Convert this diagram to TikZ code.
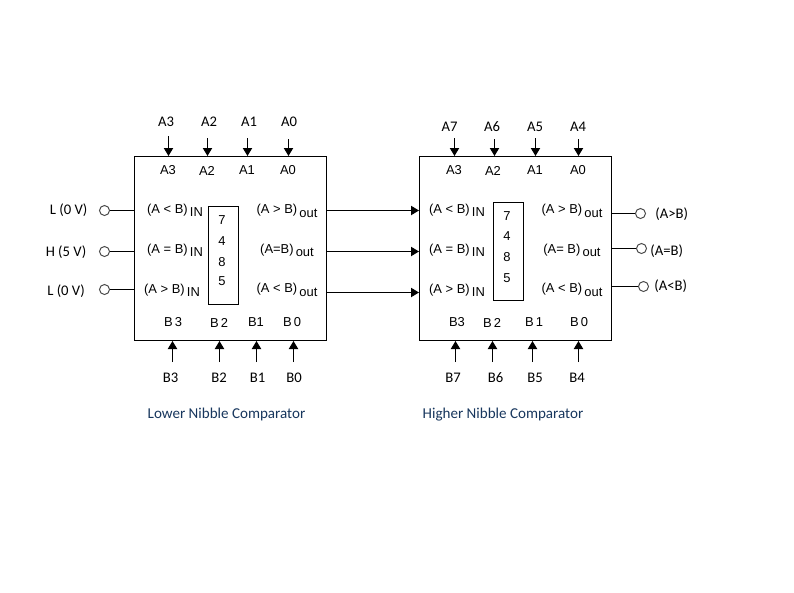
\documentclass[tikz,border=0pt]{standalone}
\usepackage{fontspec}
\setmainfont{Carlito}
\newfontfamily\innerfont{Liberation Sans}
\usetikzlibrary{arrows.meta}
\tikzset{
  x=0.75pt,y=-0.75pt,
  blockbox/.style={draw=black,line width=0.75pt,minimum width=192*0.75pt,minimum height=184*0.75pt,inner sep=0pt},
  chipbox/.style={draw=black,line width=0.75pt,minimum width=30*0.75pt,minimum height=98*0.75pt,inner sep=0pt},
  pinring/.style={circle,draw=black!70,line width=0.75pt,minimum size=10*0.75pt,inner sep=0pt},
  wire/.style={line width=0.75pt,draw=black},
  arrowwire/.style={wire,-{Triangle[length=6pt,width=7pt]}},
  outer/.style={font=\fontsize{11}{13}\selectfont,inner sep=0pt,text=black,yshift=-0.8pt},
  inner/.style={font=\innerfont\fontsize{9.7}{11}\selectfont,inner sep=0pt,text=black},
  caption/.style={font=\fontsize{11.3}{13}\selectfont,inner sep=0pt,text={rgb,255:red,23;green,54;blue,93},yshift=-1pt},
}
\newcommand{\insub}[2]{#1\raisebox{-2.5pt}{\,#2}}
\begin{document}
\begin{tikzpicture}
\useasboundingbox (0,0) rectangle (794,593);
% blocks
\node[blockbox] (lo) at (230.5,248.5) {};
\node[blockbox] (hi) at (515.5,248.5) {};
\node[chipbox] (chipa) at (223.5,255.5) {};
\node[chipbox] (chipb) at (508.5,251.5) {};
% chip digits
\foreach \d/\yy/\n in {7/220/a,4/241/b,8/262/c,5/281/d} \node[inner] (cha\n) at (222,\yy) {\d};
\foreach \d/\yy/\n in {7/216/a,4/236/b,8/257/c,5/278/d} \node[inner] (chb\n) at (507,\yy) {\d};
% top inner labels
\foreach \t/\xx/\n in {A3/168/a,A2/207/b,A1/247/c,A0/288/d} \node[inner] (tia\n) at (\xx,170.5) {\t};
\foreach \t/\xx/\n in {A3/454/a,A2/493/b,A1/535/c,A0/578/d} \node[inner] (tib\n) at (\xx,170.5) {\t};
% bottom inner labels
\foreach \t/\xx/\n in {B\,3/173/a,B\,2/219/b,B1/256/c,B\,0/292/d} \node[inner] (bia\n) at (\xx,322.5) {\t};
\foreach \t/\xx/\n in {B3/457/a,B\,2/492/b,B\,1/534/c,B\,0/579/d} \node[inner] (bib\n) at (\xx,322.5) {\t};
% top outer labels
\foreach \t/\xx/\n in {A3/166/a,A2/209/b,A1/249/c,A0/289/d} \node[outer] (toa\n) at (\xx,121) {\t};
\foreach \t/\xx/\n in {A7/449.5/a,A6/492/b,A5/535/c,A4/578/d} \node[outer] (tob\n) at (\xx,126) {\t};
% bottom outer labels
\foreach \t/\xx/\n in {B3/170.5/a,B2/219/b,B1/257.5/c,B0/294/d} \node[outer] (boa\n) at (\xx,377) {\t};
\foreach \t/\xx/\n in {B7/453/a,B6/495.7/b,B5/535/c,B4/577/d} \node[outer] (bob\n) at (\xx,377) {\t};
% top arrows
\foreach \n/\xx/\yy in {a/168.5/136,b/207.5/138,c/247.5/138,d/288.5/139} {
  \coordinate (sa\n) at (\xx,\yy);
  \draw[arrowwire] (sa\n) -- (sa\n |- lo.north);
}
\foreach \n/\xx/\yy in {a/454.5/138,b/494.5/139,c/535.5/138,d/578.5/139} {
  \coordinate (sb\n) at (\xx,\yy);
  \draw[arrowwire] (sb\n) -- (sb\n |- hi.north);
}
% bottom arrows
\foreach \n/\xx in {a/172.5,b/219.5,c/256.5,d/293.5} {
  \coordinate (ua\n) at (\xx,362);
  \draw[arrowwire] (ua\n) -- (ua\n |- lo.south);
}
\foreach \n/\xx in {a/455.5,b/492.5,c/532.5,d/578.5} {
  \coordinate (ub\n) at (\xx,362);
  \draw[arrowwire] (ub\n) -- (ub\n |- hi.south);
}
% left pins
\node[pinring] (p1) at (104.5,210.5) {};
\node[pinring] (p2) at (104.5,251.5) {};
\node[pinring] (p3) at (104.5,289.5) {};
\foreach \n in {1,2,3} \draw[wire] (p\n) -- (p\n -| lo.west);
\node[outer] (pl1) at (68.7,209) {L (0 V)};
\node[outer] (pl2) at (66,251) {H (5 V)};
\node[outer] (pl3) at (66,290) {L (0 V)};
% links between blocks
\foreach \n/\yy in {1/210.5,2/251.5,3/292.5} {
  \coordinate (ln\n) at (326.5,\yy);
  \draw[arrowwire] (ln\n) -- (ln\n -| hi.west);
}
% output pins
\node[pinring] (o1) at (640.5,213.5) {};
\node[pinring] (o2) at (641.5,248.5) {};
\node[pinring] (o3) at (643.5,286.5) {};
\foreach \n in {1,2,3} \draw[wire] (o\n) -- (o\n -| hi.east);
\node[outer] (ol1) at (671.7,213.5) {(A>B)};
\node[outer] (ol2) at (666.7,250) {(A=B)};
\node[outer] (ol3) at (670.7,285) {(A<B)};
% comparator labels block 1
\node[inner] (la1) at (175,210.5) {\insub{(A < B)}{IN}};
\node[inner] (la2) at (175,250) {\insub{(A = B)}{IN}};
\node[inner] (la3) at (172,290) {\insub{(A > B)}{IN}};
\node[inner] (ra1) at (287,211) {\insub{(A > B)}{out}};
\node[inner] (ra2) at (287,250.5) {\insub{(A=B)}{out}};
\node[inner] (ra3) at (287,290) {\insub{(A < B)}{out}};
% comparator labels block 2
\node[inner] (lb1) at (457,210.5) {\insub{(A < B)}{IN}};
\node[inner] (lb2) at (457,250) {\insub{(A = B)}{IN}};
\node[inner] (lb3) at (457,290) {\insub{(A > B)}{IN}};
\node[inner] (rb1) at (572,211) {\insub{(A > B)}{out}};
\node[inner] (rb2) at (572,250.5) {\insub{(A= B)}{out}};
\node[inner] (rb3) at (572,290) {\insub{(A < B)}{out}};
% captions
\node[caption] (capa) at (226.5,413) {Lower Nibble Comparator};
\node[caption] (capb) at (503,413) {Higher Nibble Comparator};
\end{tikzpicture}
\end{document}
